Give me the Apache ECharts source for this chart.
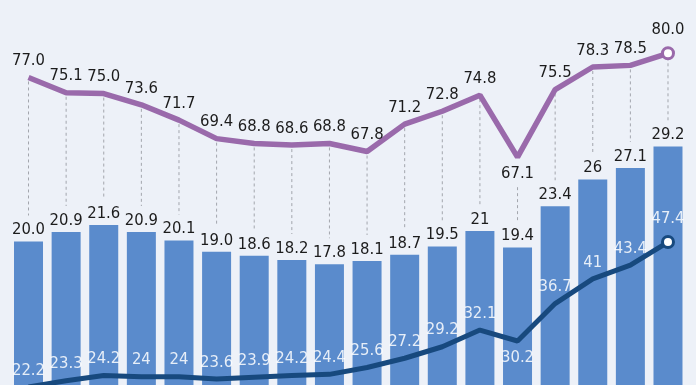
<!DOCTYPE html>
<html><head><meta charset="utf-8">
<script src="https://cdn.jsdelivr.net/npm/echarts@6/dist/echarts.min.js"></script>
<style>html,body{margin:0;padding:0;background:#edf1f8;}#c{width:696px;height:385px;}</style>
</head><body><div id="c"></div>
<script>
var categories = ['1','2','3','4','5','6','7','8','9','10','11','12','13','14','15','16','17','18'];
var barValues = [20.0,20.9,21.6,20.9,20.1,19.0,18.6,18.2,17.8,18.1,18.7,19.5,21,19.4,23.4,26,27.1,29.2];
var barLabels = ['20.0','20.9','21.6','20.9','20.1','19.0','18.6','18.2','17.8','18.1','18.7','19.5','21','19.4','23.4','26','27.1','29.2'];
var purpleValues = [77.0,75.1,75.0,73.6,71.7,69.4,68.8,68.6,68.8,67.8,71.2,72.8,74.8,67.1,75.5,78.3,78.5,80.0];
var navyValues = [22.2,23.3,24.2,24,24,23.6,23.9,24.2,24.4,25.6,27.2,29.2,32.1,30.2,36.7,41,43.4,47.4];
var navyLabels = ['22.2','23.3','24.2','24','24','23.6','23.9','24.2','24.4','25.6','27.2','29.2','32.1','30.2','36.7','41','43.4','47.4'];
var purpleBelow = [13];
var navyBelow = [13];

var chart = echarts.init(document.getElementById('c'));
var FONT = "'DejaVu Sans Condensed', 'Roboto Condensed', Roboto, sans-serif";
var last = categories.length - 1;

function purpleData(){
  return purpleValues.map(function(v,i){
    var d = {value:v, label:{position: purpleBelow.indexOf(i)>=0 ? 'bottom':'top'}};
    if(i===last){ d.symbolSize=11; d.itemStyle={color:'#fff',borderColor:'#9a6aab',borderWidth:3}; }
    return d;
  });
}
function navyData(){
  return navyValues.map(function(v,i){
    var d = {value:v, label:{position: navyBelow.indexOf(i)>=0 ? 'bottom':'top', formatter: navyLabels[i]}};
    if(i===last){ d.symbolSize=11; d.itemStyle={color:'#fff',borderColor:'#17497e',borderWidth:3}; }
    return d;
  });
}

var option = {
  backgroundColor:'#edf1f8',
  animation:false,
  grid:{left:9.7,right:9.2,top:0,bottom:0},
  xAxis:{type:'category',data:categories,show:false,boundaryGap:true},
  yAxis:[
    {type:'value',min:6.1,max:43.37,show:false,splitLine:{show:false}},
    {type:'value',min:38.8,max:86.62,show:false,splitLine:{show:false}},
    {type:'value',min:22.55,max:89.46,show:false,splitLine:{show:false}}
  ],
  series:[
    {
      type:'custom', yAxisIndex:1, z:1, silent:true,
      data: purpleValues.map(function(v,i){return [i,v,barValues[i]];}),
      renderItem:function(params, api){
        var i = api.value(0);
        var top = api.coord([i, api.value(1)]);
        var by = chart.convertToPixel({yAxisIndex:0}, api.value(2));
        var y0 = top[1] + 4;
        if(purpleBelow.indexOf(i)>=0) y0 = top[1] + 30;
        var y1 = by - 26;
        return {type:'line', shape:{x1:top[0],y1:y0,x2:top[0],y2:y1},
          style:{stroke:'#a3a6ad',lineWidth:1,lineDash:[3,3]}};
      }
    },
    {
      type:'bar', yAxisIndex:0, data:barValues, barWidth:29, z:2,
      itemStyle:{color:'#5a8bcc'},
      label:{show:true,position:'top',distance:3,color:'#1c1c1c',fontFamily:FONT,fontSize:16.5,
        formatter:function(p){return barLabels[p.dataIndex];}}
    },
    {
      type:'line', yAxisIndex:1, data:purpleData(), z:3,
      symbol:'circle', symbolSize:0.1, showSymbol:true, smooth:false,
      lineStyle:{color:'#9a6aab',width:5.5},
      itemStyle:{color:'#9a6aab'},
      label:{show:true,distance:8,color:'#1c1c1c',fontFamily:FONT,fontSize:16.5,
        formatter:function(p){return p.value.toFixed(1);}}
    },
    {
      type:'line', yAxisIndex:2, data:navyData(), z:4, clip:false,
      symbol:'circle', symbolSize:0.1, showSymbol:true, smooth:false,
      lineStyle:{color:'#17497e',width:5},
      itemStyle:{color:'#17497e'},
      label:{show:true,distance:8,color:'rgba(255,255,255,0.85)',fontFamily:FONT,fontSize:16.5}
    }
  ]
};
chart.setOption(option);
</script></body></html>
